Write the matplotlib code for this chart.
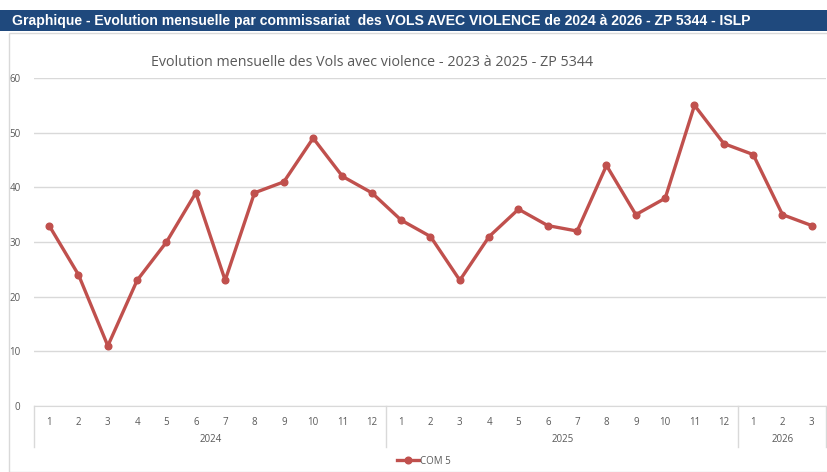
import numpy as np
import matplotlib
matplotlib.use("Agg")
import matplotlib.pyplot as plt
from matplotlib.patches import Rectangle
from matplotlib.lines import Line2D

# data
years = ["2024", "2025", "2026"]
months_per_year = [12, 12, 3]
values = [33, 24, 11, 23, 30, 39, 23, 39, 41, 49, 42, 39,
          34, 31, 23, 31, 36, 33, 32, 44, 35, 38, 55, 48,
          46, 35, 33]
series_name = "COM 5"
header = "Graphique - Evolution mensuelle par commissariat  des VOLS AVEC VIOLENCE de 2024 à 2026 - ZP 5344 - ISLP"
title = "Evolution mensuelle des Vols avec violence - 2023 à 2025 - ZP 5344"

month_labels = []
for n in months_per_year:
    month_labels += [str(m) for m in range(1, n + 1)]
x = np.arange(len(values))

W, H = 828, 472
fig = plt.figure(figsize=(W / 100, H / 100), dpi=100)
plt.rcParams['font.family'] = ['Open Sans', 'DejaVu Sans']

# header bar
fig.add_artist(Rectangle((0, 1 - 31 / H), 1, 21 / H, transform=fig.transFigure,
                         facecolor="#1F497D", edgecolor="none"))
fig.text(12 / W, 1 - 20.5 / H, header, color="white", fontsize=10.05, fontweight="bold",
         va="center", ha="left", family=["Liberation Sans Narrow", "Liberation Sans", "DejaVu Sans"])

# chart border
fig.add_artist(Rectangle((8.5 / W, 0), 1, 1 - 32.5 / H, transform=fig.transFigure,
                         facecolor="none", edgecolor="#D9D9D9", lw=1))

ax = fig.add_axes([34.5 / W, 1 - 406 / H, 792 / W, 328 / H])
ax.plot(x, values, color="#C0504D", lw=2.4, marker="o", ms=4.8, label=series_name)

ax.set_xlim(-0.5, len(values) - 0.5)
ax.set_ylim(0, 60)
ax.set_yticks(range(0, 61, 10))
ax.yaxis.grid(True, color="#D9D9D9", lw=1)
ax.set_axisbelow(True)
for s in ["top", "right", "left"]:
    ax.spines[s].set_visible(False)
ax.spines["bottom"].set_color("#D9D9D9")
ax.tick_params(axis="y", length=0, labelsize=7, labelcolor="#595959", pad=10)
ax.set_xticks(x)
ax.set_xticklabels(month_labels)
ax.tick_params(axis="x", length=0, labelsize=7, labelcolor="#595959", pad=8)

# year level of the category axis
trans = ax.get_xaxis_transform()
bounds = np.concatenate([[0], np.cumsum(months_per_year)]) - 0.5
for b in bounds:
    ax.plot([b, b], [0, -0.125], color="#D9D9D9", lw=1, transform=trans, clip_on=False)
for i, yr in enumerate(years):
    ax.text((bounds[i] + bounds[i + 1]) / 2, -0.103, yr, transform=trans, ha="center",
            va="center", fontsize=7, color="#595959")

fig.text(372 / W, 1 - 63 / H, title, ha="center", va="center", fontsize=10.3, color="#595959")

handle = Line2D([], [], color="#C0504D", lw=2.4, marker="o", ms=4.8)
fig.legend([handle], [series_name], loc="center", bbox_to_anchor=(424 / W, 1 - 461 / H),
           frameon=False, fontsize=7, handlelength=2.2, handletextpad=0.1,
           labelcolor="#595959")

fig.savefig("out.png", dpi=100)
